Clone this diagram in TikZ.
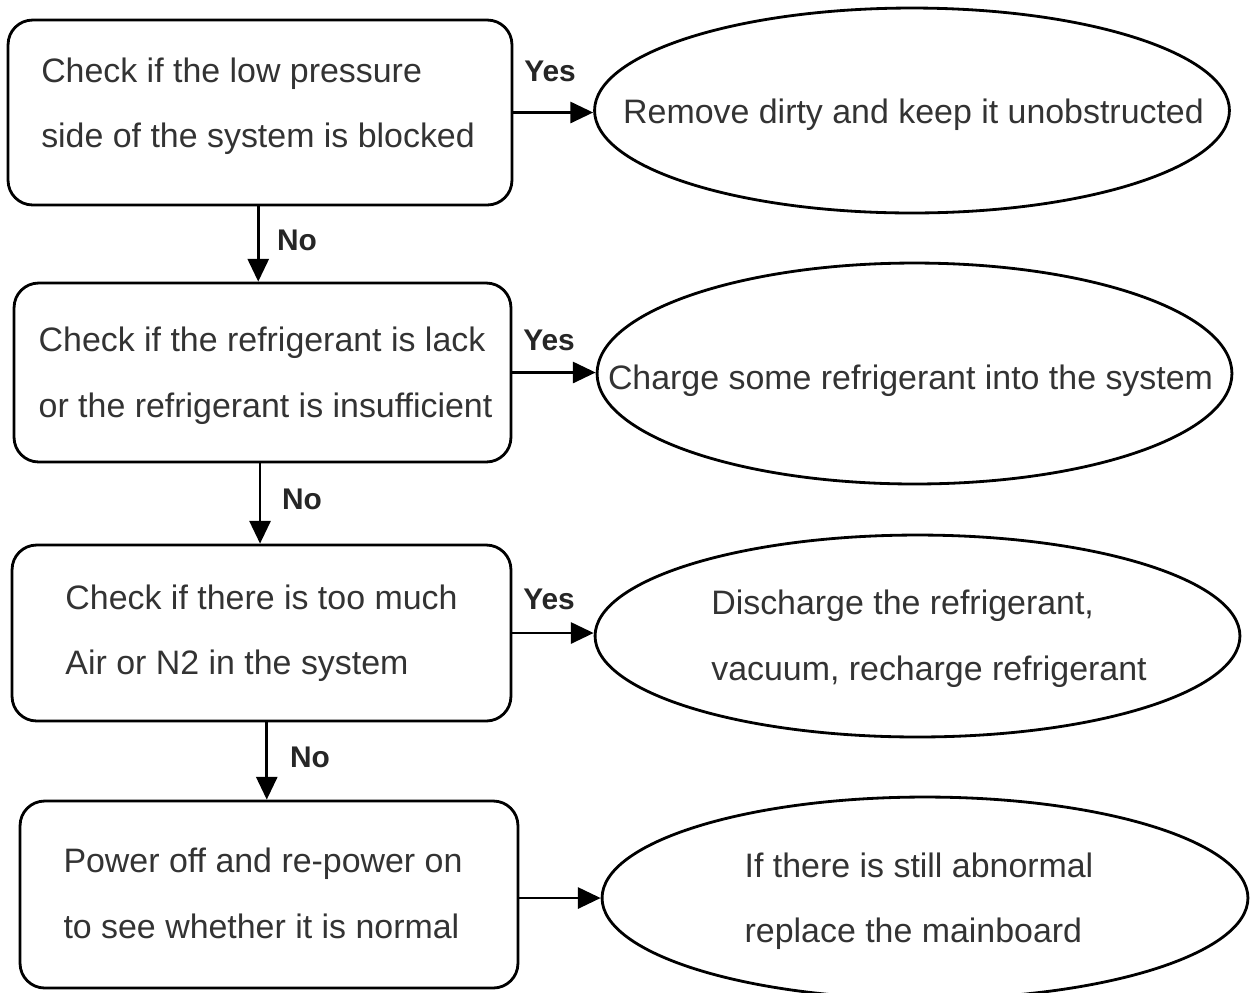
\documentclass[tikz,border=0pt]{standalone}
\usepackage{fontspec}
\setmainfont{Liberation Sans}
\usetikzlibrary{shapes.geometric,arrows.meta}
\begin{document}
\begin{tikzpicture}[x=0.02cm,y=-0.02cm,
  txt/.style={font=\fontsize{19.3}{37.3}\selectfont, text=black!80, align=left, inner sep=0pt},
  checkbox/.style={draw, line width=1.6pt, rounded corners=14pt},
  action/.style={draw, ellipse, line width=1.6pt, inner sep=0pt},
  tag/.style={font=\fontsize{17}{20}\selectfont\bfseries, text=black!85, inner sep=0pt},
  arr/.style={line width=1.6pt, -{Triangle[length=13pt,width=12pt]}}
]
\useasboundingbox (0,0) rectangle (1250,992);
\fill[white] (0,0) rectangle (1250,992);

% check steps
\node[checkbox, minimum width=10.08cm, minimum height=3.70cm] (b1) at (260,112.5) {};
\node[txt] (t1) at (258,106) {Check if the low pressure\\side of the system is blocked};
\node[checkbox, minimum width=9.94cm, minimum height=3.58cm] (b2) at (262.5,372.5) {};
\node[txt] (t2) at (265.5,375.5) {Check if the refrigerant is lack\\or the refrigerant is insufficient};
\node[checkbox, minimum width=9.98cm, minimum height=3.52cm] (b3) at (261.5,633) {};
\node[txt] (t3) at (261.5,633) {Check if there is too much\\Air or N2 in the system};
\node[checkbox, minimum width=9.96cm, minimum height=3.74cm] (b4) at (269,894.5) {};
\node[txt] (t4) at (263,893.5) {Power off and re-power on\\to see whether it is normal};

% remedies
\node[action, minimum width=12.70cm, minimum height=4.10cm] (e1) at (912,110.5) {};
\node[txt] (r1) at (913.5,115) {Remove dirty and keep it unobstructed};
\node[action, minimum width=12.70cm, minimum height=4.42cm] (e2) at (914.5,373.5) {};
\node[txt] (r2) at (910.5,381) {Charge some refrigerant into the system};
\node[action, minimum width=12.90cm, minimum height=4.04cm] (e3) at (917.5,636) {};
\node[txt] (r3) at (929,638.5) {Discharge the refrigerant,\\vacuum, recharge refrigerant};
\node[action, minimum width=12.92cm, minimum height=4.04cm] (e4) at (925,898) {};
\node[txt] (r4) at (919,901) {If there is still abnormal\\replace the mainboard};

% "Yes" branches
\draw[arr] (b1.east) -- (b1.east -| e1.west);
\draw[arr] (b2.east) -- (b2.east -| e2.west);
\draw[arr] (b3.east) -- (b3.east -| e3.west);
\draw[arr] ([yshift=-2pt]b4.east) -- ([yshift=-2pt]b4.east -| e4.west);
\node[tag] (y1) at (550,71) {Yes};
\node[tag] (y2) at (549,340) {Yes};
\node[tag] (y3) at (549,599) {Yes};

% "No" branches
\draw[arr] ([xshift=-1pt]b1.south) -- ([xshift=-1pt]b1.south |- b2.north);
\draw[arr] ([xshift=-1.4pt]b2.south) -- ([xshift=-1.4pt]b2.south |- b3.north);
\draw[arr] ([xshift=3pt]b3.south) -- ([xshift=3pt]b3.south |- b4.north);
\node[tag] (n1) at (297,240) {No};
\node[tag] (n2) at (302,499) {No};
\node[tag] (n3) at (310,757) {No};
\end{tikzpicture}
\end{document}
